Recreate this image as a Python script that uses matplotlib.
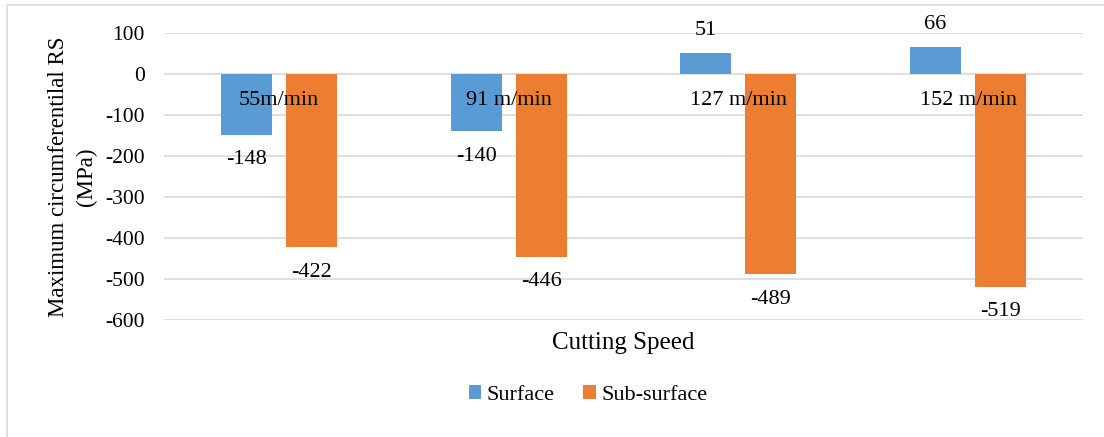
import matplotlib.pyplot as plt
import numpy as np
from matplotlib.patches import Rectangle

categories = ["55m/min", "91 m/min", "127 m/min", "152 m/min"]
surface = [-148, -140, 51, 66]
sub_surface = [-422, -446, -489, -519]
yticks = [100, 0, -100, -200, -300, -400, -500, -600]

plt.rcParams['font.family'] = ['Liberation Serif', 'DejaVu Serif']

W, H = 1104, 437
fig = plt.figure(figsize=(W / 100, H / 100), dpi=100)
ax = fig.add_axes([164 / W, 1 - 320 / H, (1083 - 164) / W, (320 - 33) / H])

blue = '#5B9BD5'
orange = '#ED7D31'
x = np.arange(len(categories))
bw = 0.222
off = 0.1415
b1 = ax.bar(x - off, surface, bw, color=blue, label='Surface', zorder=3)
b2 = ax.bar(x + off, sub_surface, bw, color=orange, label='Sub-surface', zorder=3)

fs = 16
for bars, vals in ((b1, surface), (b2, sub_surface)):
    for rect, v in zip(bars, vals):
        cx = rect.get_x() + rect.get_width() / 2
        dy = 16 if v >= 0 else -18
        ax.annotate(f"{v}", (cx, v), xytext=(0, dy), textcoords='offset points',
                    ha='center', va='center', fontsize=fs, zorder=4)

# category labels sit next to the zero line
for xi, lab in zip(x, categories):
    ax.annotate(lab, (xi, 0), xytext=(0, -19), textcoords='offset points',
                ha='center', va='center', fontsize=fs, zorder=5)

ax.set_xlim(-0.5, len(categories) - 0.5)
ax.set_ylim(-600, 100)
ax.set_yticks(yticks)
ax.set_yticklabels([str(t) for t in yticks], fontsize=15.5)
ax.set_xticks([])
ax.tick_params(axis='y', length=0, pad=14)
ax.grid(axis='y', color='#D9D9D9', linewidth=1.2, zorder=0)
for s in ax.spines.values():
    s.set_visible(False)

ax.set_ylabel("Maximum circumferentilal RS\n(MPa)", fontsize=16.5, linespacing=1.4, labelpad=6)
ax.set_xlabel("Cutting Speed", fontsize=18, labelpad=9)

fig.legend(handles=[b1, b2], labels=['Surface', 'Sub-surface'], loc='center',
           bbox_to_anchor=(588 / W, 1 - 395 / H), ncol=2, frameon=False,
           fontsize=fs, handlelength=0.55, handleheight=0.55, handletextpad=0.25,
           columnspacing=1.3)

fig.patches.append(Rectangle((7 / W, -0.1), 1.2, 1 - 5 / H + 0.1, transform=fig.transFigure,
                             fill=False, edgecolor='#D9D9D9', linewidth=1.2))

fig.savefig('out.png', dpi=100)
